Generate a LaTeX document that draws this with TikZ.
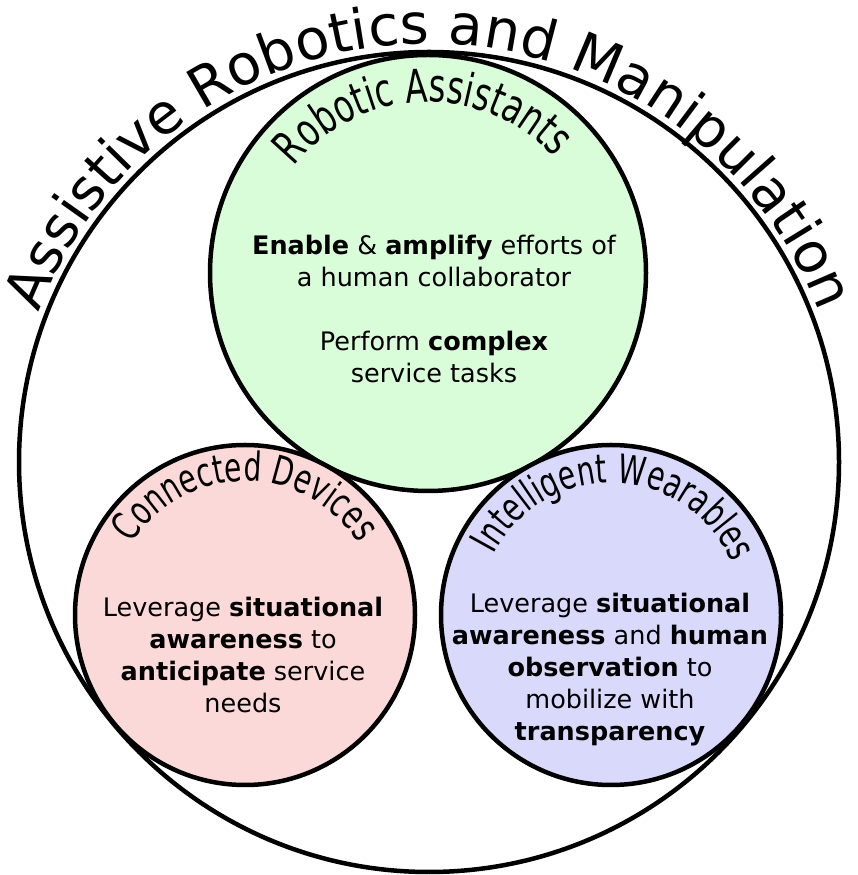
\documentclass[tikz,border=0pt]{standalone}
\usepackage{fontspec}
\setmainfont{DejaVu Sans}
\newfontfamily\condfont{DejaVu Sans}[FakeStretch=0.7]
\usetikzlibrary{decorations.text}
\definecolor{rgreen}{RGB}{217,252,217}
\definecolor{rpink}{RGB}{252,217,217}
\definecolor{rblue}{RGB}{217,217,252}
\begin{document}
\begin{tikzpicture}[x=1pt,y=1pt,
  bubble/.style={circle, draw=black, line width=4.5pt, inner sep=0pt},
  body/.style={align=center, font=\fontsize{25.5}{32}\selectfont, text=black}]
\useasboundingbox (0,0) rectangle (858,875);
\node[bubble, fill=white, minimum size=820pt] (outer) at (429,413) {};
\node[bubble, fill=rgreen, minimum size=436pt] (ra) at (428,602) {};
\node[bubble, fill=rpink, minimum size=340pt] (cd) at (245,260) {};
\node[bubble, fill=rblue, minimum size=340pt] (iw) at (611,260) {};
% curved titles
\path[decorate, decoration={text along path, text align=center,
  text={|\fontsize{56}{66}\selectfont|Assistive Robotics and Manipulation}}]
  ([shift={(165:418)}]outer.center) arc[start angle=165, end angle=15, radius=418];
\path[decorate, decoration={text along path, text align=center,
  text={|\condfont\fontsize{46}{54}\selectfont|Robotic Assistants}}]
  ([shift={(150:171)}]ra.center) arc[start angle=150, end angle=34, radius=171];
\path[decorate, decoration={text along path, text align=center,
  text={|\condfont\fontsize{40}{48}\selectfont|Connected Devices}}]
  ([shift={(160:134)}]cd.center) arc[start angle=160, end angle=20, radius=134];
\path[decorate, decoration={text along path, text align=center,
  text={|\condfont\fontsize{40}{48}\selectfont|Intelligent Wearables}}]
  ([shift={(165:132)}]iw.center) arc[start angle=165, end angle=11, radius=132];
% body texts
\node[body] (ratext) at (434,566) {\textbf{Enable} \& \textbf{amplify} efforts of\\a human collaborator\\[32pt]Perform \textbf{complex}\\service tasks};
\node[body] (cdtext) at (243,220) {Leverage \textbf{situational}\\\textbf{awareness} to\\\textbf{anticipate} service\\needs};
\node[body] (iwtext) at (610,205) {Leverage \textbf{situational}\\\textbf{awareness} and \textbf{human}\\\textbf{observation} to\\mobilize with\\\textbf{transparency}};
\end{tikzpicture}
\end{document}
